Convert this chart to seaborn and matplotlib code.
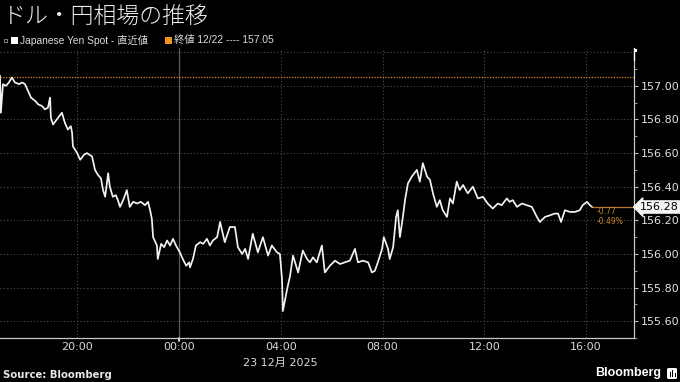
import matplotlib
matplotlib.use("Agg")
import matplotlib.pyplot as plt
import matplotlib.dates as mdates
import matplotlib.transforms as mtransforms
from matplotlib.patches import FancyBboxPatch, Rectangle
import numpy as np
import pandas as pd
import seaborn as sns

# ---------------- data ----------------
title = "ドル・円相場の推移"
series_label = "Japanese Yen Spot - 直近値"
close_label = "終値 12/22 ---- 157.05"
prev_close = 157.05
last_price = 156.28
change_abs = "-0.77"
change_pct = "-0.49%"
date_label = "23 12月 2025"

times = [
    "16:58", "17:00", "17:05", "17:12", "17:19", "17:26", "17:33", "17:43", "17:50", "17:57",
    "18:04", "18:11", "18:21", "18:28", "18:37", "18:44", "18:51", "18:56", "18:58", "19:03",
    "19:12", "19:24", "19:31", "19:38", "19:45", "19:48", "19:50", "20:00", "20:07", "20:16",
    "20:23", "20:35", "20:42", "20:49", "20:56", "21:01", "21:06", "21:13", "21:17", "21:24",
    "21:31", "21:36", "21:41", "21:50", "21:57", "22:04", "22:12", "22:21", "22:30", "22:40",
    "22:47", "22:52", "22:56", "22:59", "23:08", "23:10", "23:18", "23:25", "23:32", "23:39",
    "23:46", "23:53", "00:02", "00:09", "00:17", "00:24", "00:26", "00:33", "00:40", "00:50",
    "00:57", "01:06", "01:13", "01:20", "01:30", "01:37", "01:48", "02:00", "02:12", "02:19",
    "02:29", "02:36", "02:43", "02:54", "03:06", "03:18", "03:30", "03:39", "03:51", "03:58",
    "04:03", "04:05", "04:15", "04:22", "04:29", "04:41", "04:52", "05:02", "05:09", "05:16",
    "05:25", "05:37", "05:44", "05:56", "06:08", "06:20", "06:31", "06:43", "06:55", "07:02",
    "07:14", "07:26", "07:35", "07:42", "07:49", "07:59", "08:03", "08:13", "08:17", "08:25",
    "08:32", "08:36", "08:41", "08:48", "08:53", "09:00", "09:09", "09:21", "09:28", "09:35",
    "09:45", "09:52", "09:59", "10:08", "10:15", "10:22", "10:32", "10:39", "10:46", "10:55",
    "11:02", "11:10", "11:21", "11:33", "11:45", "11:57", "12:08", "12:20", "12:32", "12:41",
    "12:53", "13:00", "13:07", "13:17", "13:29", "13:40", "13:52", "14:04", "14:11", "14:23",
    "14:35", "14:46", "14:54", "15:01", "15:10", "15:22", "15:34", "15:45", "15:52", "16:02",
    "16:09", "16:14",
]
prices = [
    157.06, 156.84, 157.01, 157.00, 157.02, 157.05, 157.02, 157.01, 157.02, 157.01,
    156.97, 156.93, 156.91, 156.89, 156.88, 156.86, 156.87, 156.93, 156.81, 156.77,
    156.80, 156.84, 156.78, 156.74, 156.76, 156.72, 156.64, 156.60, 156.56, 156.59,
    156.60, 156.58, 156.50, 156.47, 156.45, 156.38, 156.34, 156.48, 156.40, 156.34,
    156.35, 156.32, 156.28, 156.33, 156.38, 156.28, 156.31, 156.30, 156.31, 156.29,
    156.31, 156.26, 156.21, 156.10, 156.05, 155.97, 156.06, 156.04, 156.08, 156.05,
    156.09, 156.05, 156.01, 155.97, 155.93, 155.95, 155.92, 155.97, 156.05, 156.07,
    156.06, 156.09, 156.05, 156.08, 156.10, 156.19, 156.07, 156.16, 156.16, 156.04,
    156.00, 156.03, 155.97, 156.12, 156.01, 156.10, 155.99, 156.05, 156.01, 156.00,
    155.85, 155.66, 155.79, 155.87, 155.99, 155.89, 156.02, 155.97, 155.95, 155.98,
    155.95, 156.05, 155.89, 155.93, 155.96, 155.94, 155.95, 155.96, 156.03, 155.95,
    155.96, 155.95, 155.89, 155.90, 155.95, 156.03, 156.10, 156.03, 155.97, 156.04,
    156.22, 156.26, 156.10, 156.22, 156.32, 156.42, 156.46, 156.50, 156.43, 156.54,
    156.46, 156.44, 156.36, 156.28, 156.32, 156.26, 156.22, 156.33, 156.30, 156.43,
    156.38, 156.41, 156.36, 156.40, 156.33, 156.34, 156.30, 156.27, 156.30, 156.29,
    156.33, 156.31, 156.32, 156.28, 156.30, 156.29, 156.28, 156.22, 156.19, 156.22,
    156.23, 156.24, 156.24, 156.19, 156.26, 156.25, 156.25, 156.26, 156.29, 156.31,
    156.29, 156.28,
]

def to_dt(s):
    day = "2025-12-22" if s >= "16:30" else "2025-12-23"
    return pd.Timestamp(f"{day} {s}")

df = pd.DataFrame({"time": [to_dt(t) for t in times], "price": prices})

# ---------------- style ----------------
sns.set_style("dark")
plt.rcParams["font.family"] = ["DejaVu Sans", "Noto Sans CJK JP"]
plt.rcParams["axes.facecolor"] = "black"
plt.rcParams["figure.facecolor"] = "black"

W, H = 680, 382
fig = plt.figure(figsize=(W / 100, H / 100), dpi=100)
fig.patch.set_facecolor("black")
ax = fig.add_axes([0, 1 - 338 / H, 634 / W, (338 - 48) / H])
ax.set_facecolor("black")

xmin = pd.Timestamp("2025-12-22 16:58")
xmax = pd.Timestamp("2025-12-23 17:53")
ax.set_xlim(xmin, xmax)
ax.set_ylim(155.50, 157.225)

grid_col = "#4d4d4d"
dot = (0, (1, 2))
for yv in np.arange(155.6, 157.21, 0.2):
    ax.axhline(yv, color=grid_col, lw=0.8, ls=dot, zorder=1)
for h in ["2025-12-22 20:00", "2025-12-23 04:00", "2025-12-23 08:00",
          "2025-12-23 12:00", "2025-12-23 16:00"]:
    ax.axvline(pd.Timestamp(h), color=grid_col, lw=0.8, ls=dot, zorder=1)
ax.axvline(pd.Timestamp("2025-12-23 00:00"), color="#5a5a5a", lw=0.9, zorder=1)

ax.axhline(prev_close, color="#d98a2b", lw=0.9, ls=(0, (1, 1.2)), zorder=2)

sns.lineplot(data=df, x="time", y="price", ax=ax, color="#f2f2f2",
             linewidth=1.25, legend=False, zorder=4)

last_t = df["time"].iloc[-1]
ax.plot([last_t, xmax], [last_price, last_price], color="#b8722a", lw=0.9, zorder=3)

# axes & ticks
for s in ["top", "left"]:
    ax.spines[s].set_visible(False)
ax.spines["right"].set_color("#c8c8c8")
ax.spines["right"].set_linewidth(0.9)
ax.spines["bottom"].set_color("#c8c8c8")
ax.spines["bottom"].set_linewidth(0.9)

ax.yaxis.tick_right()
ax.set_yticks(np.round(np.arange(155.6, 157.01, 0.2), 2))
ax.set_yticks(np.round(np.arange(155.5, 157.11, 0.1), 2), minor=True)
ax.yaxis.set_major_formatter(plt.FuncFormatter(lambda v, p: f"{v:.2f}"))
ax.tick_params(axis="y", which="major", direction="out", length=3, width=0.8,
               color="#bbbbbb", labelcolor="#e2e2e2", labelsize=8, pad=2)
ax.tick_params(axis="y", which="minor", direction="out", length=2, width=0.7,
               color="#999999")

ax.xaxis.set_major_locator(mdates.HourLocator(byhour=[0, 4, 8, 12, 16, 20]))
ax.xaxis.set_major_formatter(mdates.DateFormatter("%H:%M"))
ax.xaxis.set_minor_locator(mdates.HourLocator(byhour=[2, 6, 10, 14, 18, 22]))
ax.tick_params(axis="x", which="major", length=0, labelcolor="#d8d8d8",
               labelsize=8, pad=3)
ax.tick_params(axis="x", which="minor", direction="in", length=3, width=0.7,
               color="#888888")
ax.set_xlabel("")
ax.set_ylabel("")

trans = mtransforms.blended_transform_factory(ax.transData, ax.transAxes)
t00 = pd.Timestamp("2025-12-23 00:00")
ax.plot([t00, t00], [0, -0.012], transform=trans, color="white", lw=1.2, clip_on=False)

ax.text(pd.Timestamp("2025-12-23 04:00"), -0.085, date_label, transform=trans,
        ha="center", va="center", color="#d8d8d8", fontsize=8,
        family=["DejaVu Sans", "Noto Sans CJK JP"])

# change annotations
ax.text(597 / 634, 1 - (212 - 48) / 290, change_abs, transform=ax.transAxes,
        color="#c98a2a", fontsize=5.5, va="center", ha="left")
ax.text(597 / 634, 1 - (222 - 48) / 290, change_pct, transform=ax.transAxes,
        color="#c98a2a", fontsize=5.5, va="center", ha="left")

# last price box
fig.text(640 / W, 1 - 207 / H, f"{last_price:.2f}", color="black", fontsize=8,
         ha="left", va="center",
         bbox=dict(boxstyle="larrow,pad=0.1", fc="#f4f4f4", ec="#f4f4f4"))

# title & legend
fig.text(3 / W, 1 - 16 / H, title, color="#ececec", fontsize=16.5,
         family=["Noto Sans CJK JP"], weight="light", ha="left", va="center")
fig.patches.append(Rectangle((11 / W, 1 - 43.5 / H), 6.5 / W, 6.5 / H,
                             transform=fig.transFigure, fc="white", ec="none"))
fig.patches.append(Rectangle((4 / W, 1 - 42 / H), 3 / W, 3 / H,
                             transform=fig.transFigure, fc="none", ec="#9a9a9a", lw=0.6))
fig.text(20 / W, 1 - 40 / H, series_label, color="#dadada", fontsize=7.4,
         family=["Liberation Sans", "Noto Sans CJK JP"], ha="left", va="center")
fig.patches.append(Rectangle((165 / W, 1 - 43.5 / H), 6.5 / W, 6.5 / H,
                             transform=fig.transFigure, fc="#f0921e", ec="none"))
fig.text(174 / W, 1 - 40 / H, close_label, color="#dadada", fontsize=7.4,
         family=["Liberation Sans", "Noto Sans CJK JP"], ha="left", va="center")

# small flag at top right
fig.lines.append(plt.Line2D([634 / W, 634 / W], [1 - 60 / H, 1 - 48 / H],
                            transform=fig.transFigure, color="white", lw=0.9))
fig.patches.append(Rectangle((634 / W, 1 - 52 / H), 3 / W, 3 / H,
                             transform=fig.transFigure, fc="white", ec="none"))

# footer
fig.text(3 / W, 1 - 375 / H, "Source: Bloomberg", color="#e6e6e6", fontsize=7.3,
         weight="bold", ha="left", va="center")
fig.text(661 / W, 1 - 373 / H, "Bloomberg", color="white", fontsize=9,
         family=["Liberation Sans"], weight="bold", ha="right", va="center")
fig.patches.append(FancyBboxPatch((667 / W, 1 - 379 / H), 10 / W, 11 / H,
                                  boxstyle="round,pad=0,rounding_size=0.003",
                                  transform=fig.transFigure, fc="white", ec="none"))
for bx, bh in [(669.5, 5), (672, 7), (674.5, 4)]:
    fig.patches.append(Rectangle((bx / W, 1 - 377 / H), 1.3 / W, bh / H,
                                 transform=fig.transFigure, fc="black", ec="none"))

fig.savefig("out.png", dpi=100, facecolor="black")
